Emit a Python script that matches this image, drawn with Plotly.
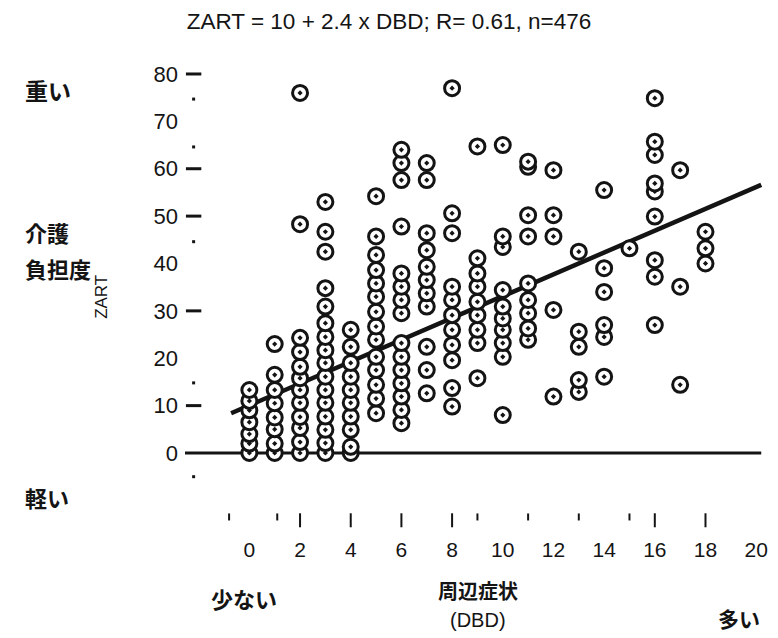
import plotly.graph_objects as go

# ---- data ----
zart_at_dbd = [
    [0, 2, 4, 6.5, 9, 11, 13.3],                                              # DBD 0
    [0, 2, 5, 7.5, 10.5, 13.3, 16.5, 23],                                     # 1
    [0, 2.3, 5.3, 7.6, 10.6, 13.3, 15.8, 18.2, 21.3, 24.3, 48.3, 76],         # 2
    [0, 2.1, 4.9, 7.7, 10.6, 13.3, 16.1, 19, 21.7, 24.5, 27.4, 30.9, 34.8,
     42.5, 46.7, 53],                                                         # 3
    [0, 1.3, 4.9, 7.7, 10.6, 13.3, 16.1, 19, 22.4, 26],                       # 4
    [8.4, 11.5, 14.4, 17.5, 20.3, 23.9, 26.7, 29.8, 33, 35.8, 38.6, 41.8,
     45.7, 54.2],                                                             # 5
    [6.3, 9.1, 11.9, 14.7, 17.5, 20.3, 23.2, 29.5, 32.3, 35.1, 37.9, 47.8,
     57.6, 61.2, 64],                                                         # 6
    [12.6, 17.5, 22.4, 30.9, 33.7, 36.5, 39.3, 42.8, 46.4, 57.6, 61.2],       # 7
    [9.8, 13.7, 19.6, 22.8, 26, 29.1, 32.3, 35.1, 46.4, 50.6, 77],            # 8
    [15.8, 23.2, 26, 29.1, 31.9, 35.1, 37.9, 41.1, 64.7],                     # 9
    [8, 20.3, 23.2, 26, 28.4, 30.9, 34.4, 43.5, 45.7, 65],                    # 10
    [23.9, 26.3, 29.5, 32.3, 35.8, 45.7, 50.2, 60.4, 61.5],                   # 11
    [11.9, 30.2, 45.7, 50.2, 59.7],                                           # 12
    [12.9, 15.4, 22.4, 25.6, 42.5],                                           # 13
    [16.1, 24.5, 27, 34, 39, 55.5],                                           # 14
    [43.2],                                                                   # 15
    [27, 37.2, 40.7, 49.9, 55.2, 56.9, 62.9, 65.7, 74.9],                     # 16
    [14.4, 35.1, 59.7],                                                       # 17
    [40, 43.2, 46.7],                                                         # 18
]
dbd_columns = list(range(len(zart_at_dbd)))

fit_dbd = [-0.72, 20.2]
fit_zart = [8.4, 56.6]

zero_dbd = [-2.54, 20.2]
zero_zart = [0, 0]

y_tick_vals = [0, 10, 20, 30, 40, 50, 60, 70, 80]
y_dash_vals = [80, 60, 50, 30, 10]
y_dot_vals = [74.7, 64.6, 44.6, 14.8, -5]
x_tick_vals = [0, 2, 4, 6, 8, 10, 12, 14, 16, 18, 20]
x_mark_tall = [2, 4, 6, 8, 16, 18]
x_mark_short = [-0.8, 1.1, 9, 11, 13, 15]

title_text = "ZART = 10 + 2.4 x DBD; R= 0.61, n=476"

# ---- build ----
dbd = []
zart = []
for d, vals in zip(dbd_columns, zart_at_dbd):
    for v in vals:
        dbd.append(d)
        zart.append(v)

INK = "#141414"
W, H = 778, 638
L, R, T, B = 185, 768, 60, 528

def px(x):
    return (x - L) / (R - L)

def py(y):
    return (B - y) / (B - T)

fig = go.Figure()

fig.add_trace(go.Scatter(x=zero_dbd, y=zero_zart, mode="lines",
                         line=dict(color=INK, width=3), hoverinfo="skip",
                         showlegend=False))
fig.add_trace(go.Scatter(x=fit_dbd, y=fit_zart, mode="lines",
                         line=dict(color=INK, width=4.5), hoverinfo="skip",
                         showlegend=False))
fig.add_trace(go.Scatter(x=dbd, y=zart, mode="markers",
                         marker=dict(symbol="circle-dot", size=15, color="white",
                                     line=dict(color=INK, width=3)),
                         showlegend=False))
# y-axis dash ticks and dots
fig.add_trace(go.Scatter(x=[-2.2] * len(y_dash_vals), y=y_dash_vals, mode="markers",
                         marker=dict(symbol="line-ew", size=11,
                                     line=dict(color=INK, width=3)),
                         hoverinfo="skip", showlegend=False, cliponaxis=False))
fig.add_trace(go.Scatter(x=[-2.2] * len(y_dot_vals), y=y_dot_vals, mode="markers",
                         marker=dict(symbol="square", size=3, color=INK),
                         hoverinfo="skip", showlegend=False, cliponaxis=False))
# x-axis marks
fig.add_trace(go.Scatter(x=x_mark_tall, y=[-14.2] * len(x_mark_tall), mode="markers",
                         marker=dict(symbol="line-ns", size=10,
                                     line=dict(color=INK, width=2)),
                         hoverinfo="skip", showlegend=False, cliponaxis=False))
fig.add_trace(go.Scatter(x=x_mark_short, y=[-13.5] * len(x_mark_short), mode="markers",
                         marker=dict(symbol="line-ns", size=5,
                                     line=dict(color=INK, width=2)),
                         hoverinfo="skip", showlegend=False, cliponaxis=False))

jp = "Noto Sans CJK JP"
num_font = "Liberation Sans, Arial, sans-serif"
ann = []
def add(text, x, y, size, font=jp, angle=0, xanchor="center", weight="normal"):
    ann.append(dict(text=text, x=px(x), y=py(y), xref="paper", yref="paper",
                    showarrow=False, textangle=angle, xanchor=xanchor, yanchor="middle",
                    font=dict(family=font, size=size, color=INK, weight=weight)))

add("重い", 21, 90, 23, xanchor="left", weight="bold")
add("介護", 21, 232, 22, xanchor="left", weight="bold")
add("負担度", 21, 268, 22, xanchor="left", weight="bold")
add("軽い", 21, 497, 22, xanchor="left", weight="bold")
add("ZART", 100, 297, 17, font=num_font, angle=-90)
add("少ない", 245, 598, 22, weight="bold")
add("周辺症状", 481, 590, 20, weight="bold")
add("(DBD)", 481, 620, 20, font=num_font)
add("多い", 745, 618, 21, weight="bold")

fig.update_layout(
    width=W, height=H,
    margin=dict(l=L, r=W - R, t=T, b=H - B),
    paper_bgcolor="white", plot_bgcolor="white",
    title=dict(text=title_text, x=0.5, xanchor="center", y=1 - 21 / H, yanchor="middle",
               font=dict(family="Liberation Sans, sans-serif", size=22.5, color=INK)),
    annotations=ann,
    xaxis=dict(range=[-2.54, 20.23], tickvals=x_tick_vals, ticks="", showgrid=False,
               zeroline=False, showline=False, tickfont=dict(family=num_font, size=21, color=INK),
               ticklabelstandoff=7),
    yaxis=dict(range=[-15.83, 82.95], tickvals=y_tick_vals, ticks="", showgrid=False,
               zeroline=False, showline=False, tickfont=dict(family=num_font, size=22, color=INK),
               ticklabelstandoff=6),
)

fig.write_html("out.html", config={"displayModeBar": False},
               post_script="document.body.style.margin='0';document.body.style.overflow='hidden';")
